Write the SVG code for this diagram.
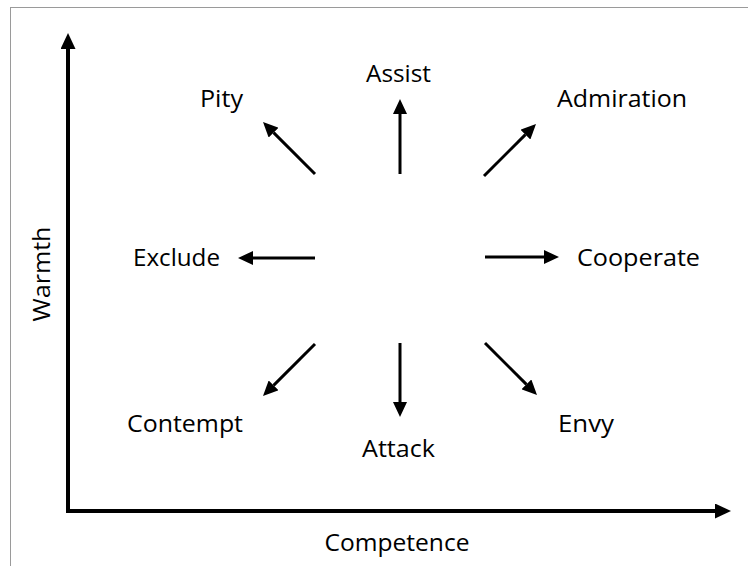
<svg xmlns="http://www.w3.org/2000/svg" width="748" height="566" viewBox="0 0 748 566">
  <style>
    .lbl { font-family: "Open Sans", "Liberation Sans", sans-serif; font-size: 24.5px; fill: #000; }
    .arr { stroke: #000; stroke-width: 3; fill: none; }
    .axis { stroke: #000; stroke-width: 4; fill: none; stroke-linejoin: miter; }
  </style>
  <defs>
    <marker id="head" viewBox="0 -7 15 14" refX="0" refY="0" markerWidth="15" markerHeight="14" markerUnits="userSpaceOnUse" orient="auto">
      <path d="M0,-7 L15,0 L0,7 Z" fill="#000"/>
    </marker>
    <marker id="axisHead" viewBox="0 -7.5 16 15" refX="0" refY="0" markerWidth="16" markerHeight="15" markerUnits="userSpaceOnUse" orient="auto-start-reverse">
      <path d="M0,-7.5 L16,0 L0,7.5 Z" fill="#000"/>
    </marker>
  </defs>

  <rect width="748" height="566" fill="#fff"/>
  <!-- outer frame -->
  <rect x="10.5" y="7.5" width="760" height="600" fill="none" stroke="#9a9a9a" stroke-width="1"/>

  <!-- axes -->
  <g id="axes">
    <path class="axis" d="M68,49 L68,511 L715,511" marker-start="url(#axisHead)" marker-end="url(#axisHead)"/>
    <text class="lbl" x="397" y="551" text-anchor="middle" textLength="145" lengthAdjust="spacingAndGlyphs">Competence</text>
    <text class="lbl" transform="translate(50,274) rotate(-90)" x="0" y="0" text-anchor="middle" textLength="95" lengthAdjust="spacingAndGlyphs">Warmth</text>
  </g>

  <!-- connectors -->
  <g id="connectors">
    <line class="arr" x1="315" y1="174" x2="273.6" y2="132.6" marker-end="url(#head)"/>
    <line class="arr" x1="400" y1="174" x2="400" y2="114" marker-end="url(#head)"/>
    <line class="arr" x1="484" y1="176" x2="525.4" y2="134.6" marker-end="url(#head)"/>
    <line class="arr" x1="315" y1="258" x2="253" y2="258" marker-end="url(#head)"/>
    <line class="arr" x1="485" y1="257" x2="544" y2="257" marker-end="url(#head)"/>
    <line class="arr" x1="315" y1="344" x2="273.6" y2="385.4" marker-end="url(#head)"/>
    <line class="arr" x1="400" y1="343" x2="400" y2="402" marker-end="url(#head)"/>
    <line class="arr" x1="485" y1="343" x2="526.4" y2="384.4" marker-end="url(#head)"/>
  </g>

  <!-- reactions -->
  <g id="pity"><text class="lbl" x="200" y="107" textLength="43" lengthAdjust="spacingAndGlyphs">Pity</text></g>
  <g id="assist"><text class="lbl" x="366" y="82" textLength="65" lengthAdjust="spacingAndGlyphs">Assist</text></g>
  <g id="admiration"><text class="lbl" x="557" y="107" textLength="130" lengthAdjust="spacingAndGlyphs">Admiration</text></g>
  <g id="exclude"><text class="lbl" x="133" y="266" textLength="87" lengthAdjust="spacingAndGlyphs">Exclude</text></g>
  <g id="cooperate"><text class="lbl" x="577" y="266" textLength="123" lengthAdjust="spacingAndGlyphs">Cooperate</text></g>
  <g id="contempt"><text class="lbl" x="127" y="432" textLength="116" lengthAdjust="spacingAndGlyphs">Contempt</text></g>
  <g id="attack"><text class="lbl" x="362" y="457" textLength="73" lengthAdjust="spacingAndGlyphs">Attack</text></g>
  <g id="envy"><text class="lbl" x="558" y="432" textLength="56" lengthAdjust="spacingAndGlyphs">Envy</text></g>
</svg>
